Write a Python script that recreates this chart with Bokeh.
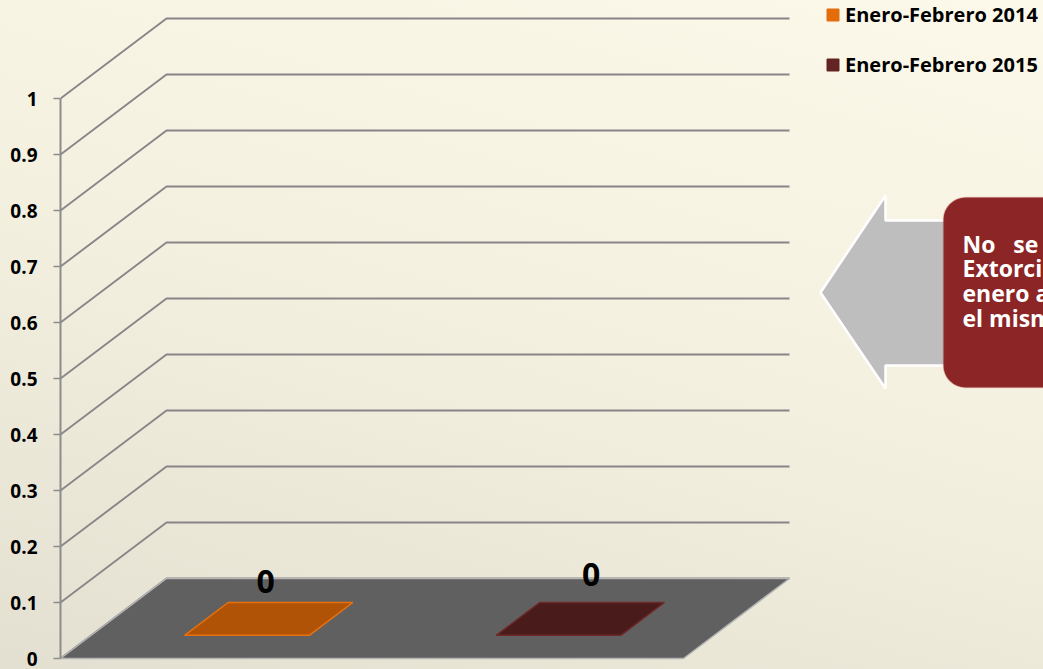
from bokeh.plotting import figure
from bokeh.models import (Range1d, FixedTicker, Legend, LegendItem, BoxAnnotation,
                          Label, ColumnDataSource)
from bokeh.core.properties import value
from bokeh.embed import file_html
from bokeh.resources import INLINE

# ---------------- data ----------------
series_names = ["Enero-Febrero 2014", "Enero-Febrero 2015"]
series_values = [0, 0]
series_colors = ["#E46C0A", "#632523"]
top_colors = ["#B05306", "#4A1B1B"]
edge_colors = ["#E8700C", "#6E2A2A"]
y_ticks = [0, 0.1, 0.2, 0.3, 0.4, 0.5, 0.6, 0.7, 0.8, 0.9, 1]
y_tick_labels = ["0", "0.1", "0.2", "0.3", "0.4", "0.5", "0.6", "0.7", "0.8", "0.9", "1"]
callout_lines = ["No\u00a0\u00a0\u00a0se", "Extorci", "enero a", "el mism"]

# ---------------- geometry ----------------
FIG_W, FIG_H = 1043, 669
BORDER_LEFT = 60
PX_PER_SLOT = 311.5
PX_PER_VAL = 560.0
ZERO_FROM_TOP = 658.0          # pixel row of value 0 inside the frame
FRAME_W = FIG_W - BORDER_LEFT
X_MAX = FRAME_W / PX_PER_SLOT
Y_MAX = ZERO_FROM_TOP / PX_PER_VAL
Y_MIN = -(FIG_H - ZERO_FROM_TOP) / PX_PER_VAL
DX = 106 / PX_PER_SLOT         # oblique depth offset (x)
DY = 80 / PX_PER_VAL           # oblique depth offset (y)
N_SLOTS = len(series_values)
BAR_W = 0.40
D1, D2 = 0.29, 0.70            # bar depth span (fraction of full depth)
LABEL_DX = [-3, 11]            # pixel nudges of the value labels
LABEL_DY = [-21, -28]


def ax(page_x):
    return (page_x - BORDER_LEFT) / PX_PER_SLOT


def ay(page_y):
    return (ZERO_FROM_TOP - page_y) / PX_PER_VAL


p = figure(width=FIG_W, height=FIG_H, output_backend="svg", toolbar_location=None,
           x_range=Range1d(0, X_MAX), y_range=Range1d(Y_MIN, Y_MAX),
           x_axis_location=None, min_border_left=BORDER_LEFT, min_border_right=0,
           min_border_top=0, min_border_bottom=0,
           background_fill_alpha=0, border_fill_alpha=0, outline_line_color=None)
p.styles = {"background-image": "linear-gradient(195deg, #FDF9EA 0%, #F4F0E0 50%, #E4E0D1 100%)"}
p.xgrid.visible = False
p.ygrid.visible = False

yaxis = p.yaxis[0]
yaxis.ticker = FixedTicker(ticks=y_ticks)
yaxis.major_label_overrides = {t: l for t, l in zip(y_ticks, y_tick_labels)}
yaxis.bounds = (0, 1)
yaxis.axis_line_color = "#8C8C8C"
yaxis.axis_line_width = 2
yaxis.major_tick_line_color = "#8C8C8C"
yaxis.major_tick_line_width = 1.5
yaxis.major_tick_out = 7
yaxis.major_tick_in = 0
yaxis.minor_tick_line_color = None
yaxis.major_label_standoff = 16
yaxis.major_label_text_font = "Open Sans"
yaxis.major_label_text_font_style = "bold"
yaxis.major_label_text_font_size = "19px"
yaxis.major_label_text_color = "#000000"

# back wall gridlines (oblique)
grid_xs = [[0, DX, N_SLOTS + DX] for t in y_ticks]
grid_ys = [[t, t + DY, t + DY] for t in y_ticks]
p.multi_line(grid_xs, grid_ys, line_color="#868686", line_width=1.9)

# floor
p.patch([0, N_SLOTS, N_SLOTS + DX, DX], [0, 0, DY, DY],
        fill_color="#606060", line_color="#B5B5B5", line_width=1.5)

# bars
legend_items = []
for i, (name, v) in enumerate(zip(series_names, series_values)):
    c = i + 0.5
    x0, x1 = c - BAR_W / 2, c + BAR_W / 2
    front = ColumnDataSource(dict(
        xs=[[x0 + D1 * DX, x1 + D1 * DX, x1 + D1 * DX, x0 + D1 * DX]],
        ys=[[D1 * DY, D1 * DY, v + D1 * DY, v + D1 * DY]]))
    side = ColumnDataSource(dict(
        xs=[[x1 + D1 * DX, x1 + D2 * DX, x1 + D2 * DX, x1 + D1 * DX]],
        ys=[[D1 * DY, D2 * DY, v + D2 * DY, v + D1 * DY]]))
    top = ColumnDataSource(dict(
        xs=[[x0 + D1 * DX, x1 + D1 * DX, x1 + D2 * DX, x0 + D2 * DX]],
        ys=[[v + D1 * DY, v + D1 * DY, v + D2 * DY, v + D2 * DY]]))
    fr = p.patches("xs", "ys", source=front, fill_color=series_colors[i],
                   line_color=series_colors[i], line_width=1)
    p.patches("xs", "ys", source=side, fill_color=top_colors[i],
              line_color=edge_colors[i], line_width=1)
    p.patches("xs", "ys", source=top, fill_color=top_colors[i],
              line_color=edge_colors[i], line_width=1.5)
    legend_items.append(LegendItem(label=name, renderers=[fr]))

    # data label
    p.text(x=[c + 0.5 * (D1 + D2) * DX], y=[v + D2 * DY], text=[str(v)],
           text_font=value("Open Sans"), text_font_style="bold", text_font_size="32px",
           text_color="#000000", text_align="center", text_baseline="middle",
           x_offset=LABEL_DX[i], y_offset=LABEL_DY[i])

legend = Legend(items=legend_items, location=(765, 591),
                glyph_width=15, glyph_height=15, label_standoff=5, spacing=23,
                padding=0, margin=0, border_line_alpha=0, background_fill_alpha=0,
                label_text_font="Open Sans", label_text_font_style="bold",
                label_text_font_size="20px", label_text_color="#000000")
p.add_layout(legend)

# callout: grey block arrow pointing left + red rounded box
arrow_px = [820, 885, 885, 960, 960, 885, 885]
arrow_py = [292, 195, 220, 220, 365, 365, 388]
p.patch([ax(x) for x in arrow_px], [ay(y) for y in arrow_py],
        fill_color="#BEBEBE", line_color="#FFFFFF", line_width=2.5)

box = BoxAnnotation(left=ax(943), right=ax(1120), top=ay(197), bottom=ay(387),
                    border_radius=22, fill_color="#8C2525", fill_alpha=1,
                    line_color="#B04646", line_width=1.5)
p.add_layout(box)

for k, line in enumerate(callout_lines):
    p.add_layout(Label(x=ax(962), y=ay(243 + 24.8 * k), text=line,
                       text_font="Open Sans", text_font_style="bold", text_font_size="23px",
                       text_color="#FFFFFF", text_baseline="middle", text_align="left"))

open("out.html", "w").write(file_html(p, INLINE))
